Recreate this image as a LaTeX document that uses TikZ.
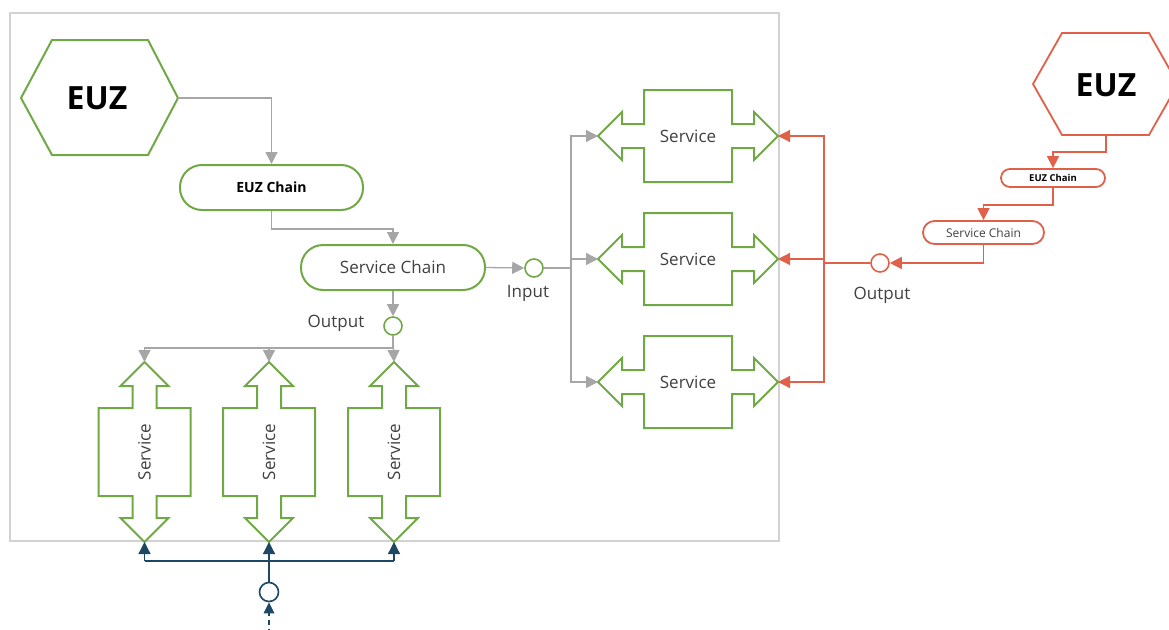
\documentclass[tikz,border=0pt]{standalone}
\usepackage{fontspec}
\setmainfont{Open Sans}
\usetikzlibrary{arrows.meta,calc}
\definecolor{cgreen}{RGB}{112,168,70}
\definecolor{cred}{RGB}{224,96,74}
\definecolor{cgray}{RGB}{166,166,166}
\definecolor{cframe}{RGB}{210,210,210}
\definecolor{cblue}{RGB}{28,72,100}
\definecolor{ctext}{RGB}{64,64,64}
\tikzset{
  svc/.style={draw=cgreen, line width=2pt, line join=miter},
  svctext/.style={text=ctext, font=\fontsize{17}{20}\selectfont, inner sep=0pt},
  serv/.pic={
    \begin{scope}[rotate=#1]
      \draw[svc] (-90,0) -- (-66,-24) -- (-66,-12) -- (-44,-12) -- (-44,-46) -- (44,-46)
        -- (44,-12) -- (66,-12) -- (66,-24) -- (90,0) -- (66,24) -- (66,12) -- (44,12)
        -- (44,46) -- (-44,46) -- (-44,12) -- (-66,12) -- (-66,24) -- cycle;
      \coordinate (-a) at (-90,0);
      \coordinate (-b) at (90,0);
    \end{scope}
    \node[svctext, rotate=#1] (-t) at (0,0) {Service};
  },
  chainbox/.style={draw=cgreen, line width=2pt, rounded corners=22pt, inner sep=0pt,
    minimum width=183pt, minimum height=45pt},
  rchainbox/.style={draw=cred, line width=1.8pt, inner sep=0pt},
  port/.style={circle, draw=cgreen, line width=1.6pt, minimum size=18pt, inner sep=0pt},
  rport/.style={circle, draw=cred, line width=1.6pt, minimum size=18pt, inner sep=0pt},
  bport/.style={circle, draw=cblue, line width=1.6pt, minimum size=19pt, inner sep=0pt},
  lbl/.style={text=ctext, font=\fontsize{17}{20}\selectfont, inner sep=0pt},
  tip/.style={-{Triangle[length=12pt,width=12pt]}},
  gline/.style={draw=cgray, line width=1.3pt},
  garr/.style={gline, tip},
  rline/.style={draw=cred, line width=1.3pt},
  rarr/.style={rline, tip},
  bline/.style={draw=cblue, line width=1.3pt},
  barr/.style={bline, tip},
}
\begin{document}
\begin{tikzpicture}[x=1pt,y=-1pt]
\useasboundingbox (0,0) rectangle (1169,629);
% frame
\draw[cframe, line width=1.5pt] (10,13) rectangle (779,541);

% left hexagon
\draw[cgreen, line width=2pt] (21,98) -- (52,40) -- (148,40) -- (178,98) -- (148,155) -- (52,155) -- cycle;
\coordinate (hexR) at (178,98);
\node[font=\bfseries\fontsize{32}{36}\selectfont, inner sep=0pt] (euz) at (97,98) {EUZ};

% chains
\node[chainbox, font=\bfseries\fontsize{14}{16}\selectfont] (euzc) at (271.5,187.5) {EUZ Chain};
\node[chainbox, minimum width=184pt, font=\fontsize{17}{20}\selectfont, text=ctext] (sc) at (393,267.5) {Service Chain};

% ports
\node[port] (inC) at (534,268) {};
\node[lbl] (inL) at (528,293) {Input};
\node[port] (outC) at (393,326) {};
\node[lbl] (outL) at (336,323) {Output};

% services
\pic (r1) at (688,136) {serv=0};
\pic (r2) at (688,259) {serv=0};
\pic (r3) at (688,382) {serv=0};
\pic (v1) at (144.5,452) {serv=90};
\pic (v2) at (269,452) {serv=90};
\pic (v3) at (394,452) {serv=90};

% gray connectors
\draw[garr] (hexR) -| (euzc.north);
\draw[garr] (euzc.south) -- ++(0,18) -| (sc.north);
\draw[garr] (sc.east) -- (inC.west);
\draw[garr] (inC.east) -| ($(r1-a)+(-27,0)$) -- (r1-a);
\draw[garr] (inC.east) -| ($(r2-a)+(-27,0)$) -- (r2-a);
\draw[garr] (inC.east) -| ($(r3-a)+(-27,0)$) -- (r3-a);
\draw[garr] (sc.south) -- (outC.north);
\draw[garr] (outC.south) -- (v3-b);
\draw[garr] (outC.south) |- ($(v1-b)+(0,-14)$) -- (v1-b);
\draw[garr] (outC.south) |- ($(v2-b)+(0,-14)$) -- (v2-b);

% red side
\draw[cred, line width=1.8pt] (1033,84) -- (1062,33) -- (1149,33) -- (1178,84) -- (1149,135) -- (1062,135) -- cycle;
\coordinate (rhexB) at (1106,135);
\node[font=\bfseries\fontsize{32}{36}\selectfont, inner sep=0pt] (reuz) at (1106,85) {EUZ};
\node[rchainbox, rounded corners=9pt, minimum width=104pt, minimum height=18pt,
  font=\bfseries\fontsize{9.5}{11}\selectfont] (reuzc) at (1053,178) {EUZ Chain};
\node[rchainbox, rounded corners=11.5pt, minimum width=121pt, minimum height=23pt,
  font=\fontsize{12}{14}\selectfont, text=ctext] (rsc) at (983.5,232.5) {Service Chain};
\node[rport] (routC) at (880,263) {};
\node[lbl] (routL) at (882,295) {Output};

\draw[rarr] (rhexB) -- ++(0,17) -| (reuzc.north);
\draw[rarr] (reuzc.south) -- ++(0,17) -| (rsc.north);
\draw[rarr] (rsc.south) |- (routC.east);
\draw[rarr] (routC.west) -| ($(r1-b)+(46,0)$) -- (r1-b);
\draw[rarr] (routC.west) -| ($(r2-b)+(46,0)$) -- (r2-b);
\draw[rarr] (routC.west) -| ($(r3-b)+(46,0)$) -- (r3-b);

% blue bottom
\node[bport] (botC) at (269,592) {};
\draw[barr] (botC.north) -- (v2-a);
\draw[bline] ($(v1-a)+(0,19)$) -- ($(v3-a)+(0,19)$);
\draw[barr] ($(v1-a)+(0,19)$) -- (v1-a);
\draw[barr] ($(v3-a)+(0,19)$) -- (v3-a);
\coordinate (bin) at (269,634);
\draw[bline, dash pattern=on 5pt off 4pt] (bin) -- ($(botC.south)+(0,11)$);
\fill[cblue] (botC.south) -- ++(-5.5,11) -- ++(11,0) -- cycle;
\end{tikzpicture}
\end{document}
